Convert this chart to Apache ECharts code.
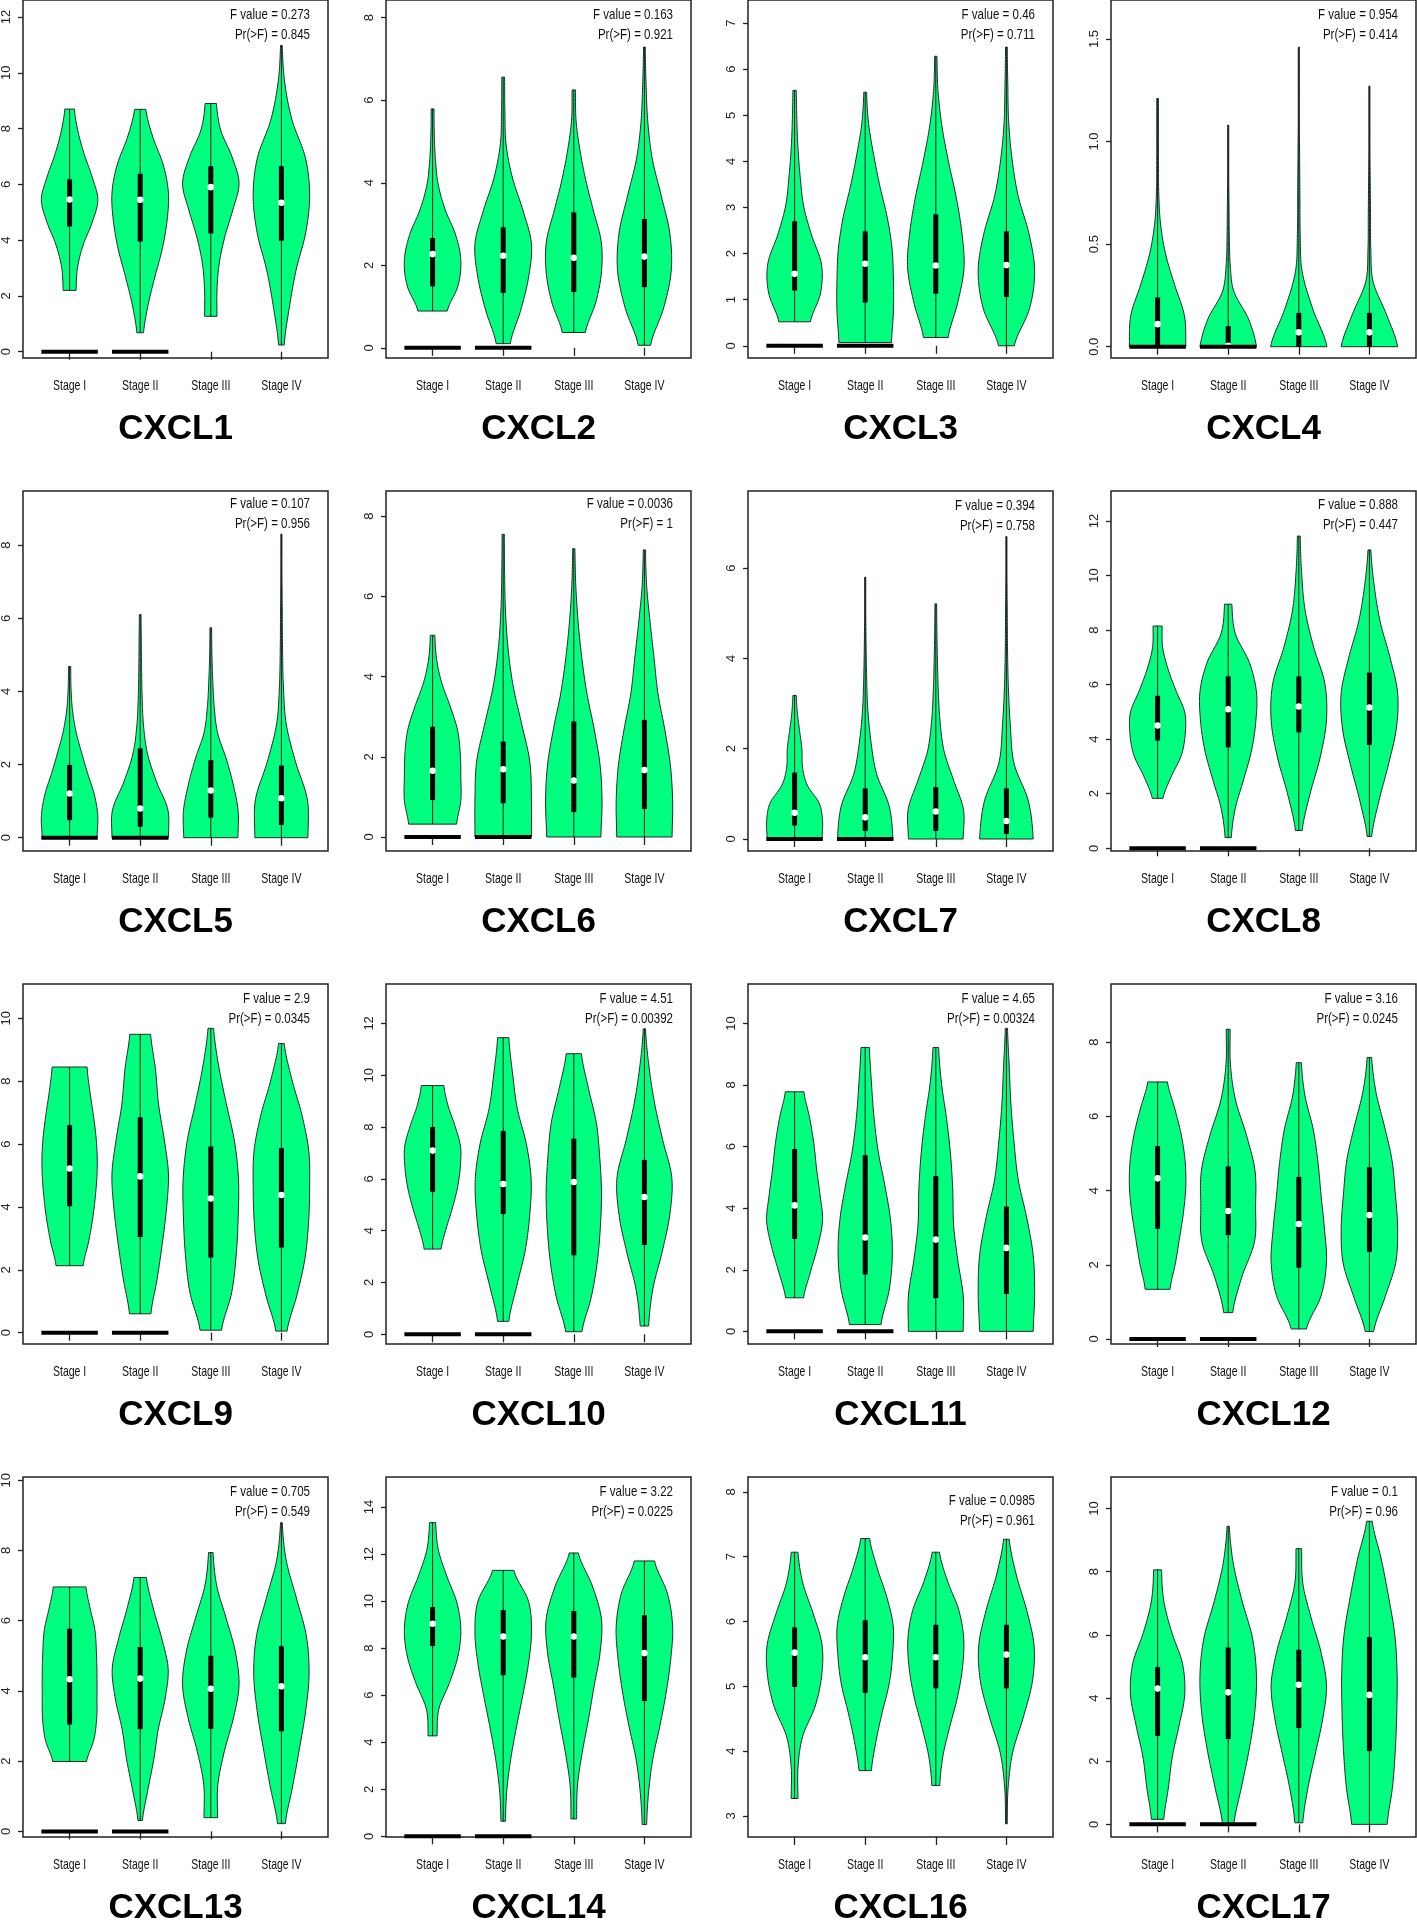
<!DOCTYPE html>
<html>
<head>
<meta charset="utf-8">
<title>CXCL expression by stage</title>
<script src="https://cdn.jsdelivr.net/npm/echarts@6/dist/echarts.min.js"></script>
<style>
  html, body { margin: 0; padding: 0; background: #fff; }
  #main { width: 1417px; height: 1922px; }
</style>
</head>
<body>
<div id="main"></div>
<script>
// ==================== data ====================
const genes = ['CXCL1', 'CXCL2', 'CXCL3', 'CXCL4', 'CXCL5', 'CXCL6', 'CXCL7', 'CXCL8',
  'CXCL9', 'CXCL10', 'CXCL11', 'CXCL12', 'CXCL13', 'CXCL14', 'CXCL16', 'CXCL17'];
const stages = ['Stage I', 'Stage II', 'Stage III', 'Stage IV'];

const fValues = ['0.273', '0.163', '0.46', '0.954', '0.107', '0.0036', '0.394', '0.888',
  '2.9', '4.51', '4.65', '3.16', '0.705', '3.22', '0.0985', '0.1'];
const prValues = ['0.845', '0.921', '0.711', '0.414', '0.956', '1', '0.758', '0.447',
  '0.0345', '0.00392', '0.00324', '0.0245', '0.549', '0.0225', '0.961', '0.96'];

// y axis range and ticks of each panel
const yMin = [-0.225, -0.248, -0.265, -0.055, -0.364, -0.35, -0.266, -0.1,
  -0.36, -0.374, -0.41, -0.135, -0.16, -0.03, 2.676, -0.40];
const yMax = [12.61, 8.43, 7.50, 1.69, 9.48, 8.63, 7.71, 13.1,
  11.09, 13.52, 11.28, 9.57, 10.09, 15.28, 8.23, 11.0];
const yTicks = [
  [0, 2, 4, 6, 8, 10, 12], [0, 2, 4, 6, 8], [0, 1, 2, 3, 4, 5, 6, 7], [0, 0.5, 1, 1.5],
  [0, 2, 4, 6, 8], [0, 2, 4, 6, 8], [0, 2, 4, 6], [0, 2, 4, 6, 8, 10, 12],
  [0, 2, 4, 6, 8, 10], [0, 2, 4, 6, 8, 10, 12], [0, 2, 4, 6, 8, 10], [0, 2, 4, 6, 8],
  [0, 2, 4, 6, 8, 10], [0, 2, 4, 6, 8, 10, 12, 14], [3, 4, 5, 6, 7, 8], [0, 2, 4, 6, 8, 10]
];
const tickDecimals = [0, 0, 0, 1, 0, 0, 0, 0, 0, 0, 0, 0, 0, 0, 0, 0];

// black bar at zero (stage I, II) drawn in all panels but CXCL16
const zeroBars = [1, 1, 1, 1, 1, 1, 1, 1, 1, 1, 1, 1, 1, 1, 0, 1];

// violin range (min / max) per panel, per stage
const lows = [
  [2.2, 0.68, 1.27, 0.24], [0.89, 0.1, 0.37, 0.06], [0.52, 0.07, 0.18, 0], [0, 0, 0, 0],
  [0, 0, 0, 0], [0.32, 0, 0, 0], [0, 0, 0, 0], [1.83, 0.39, 0.65, 0.43],
  [2.13, 0.6, 0.08, 0.05], [3.29, 0.5, 0.1, 0.32], [1.09, 0.22, 0, 0], [1.34, 0.71, 0.27, 0.2],
  [1.99, 0.31, 0.39, 0.22], [4.27, 0.64, 0.74, 0.5], [3.27, 3.7, 3.47, 2.88], [0.16, 0, 0.05, 0]
];
const highs = [
  [8.7, 8.69, 8.9, 10.98], [5.79, 6.56, 6.25, 7.29], [5.54, 5.5, 6.28, 6.48], [1.21, 1.08, 1.46, 1.27],
  [4.68, 6.1, 5.74, 8.3], [5.03, 7.55, 7.19, 7.16], [3.18, 5.8, 5.21, 6.7], [8.15, 8.95, 11.45, 10.94],
  [8.45, 9.49, 9.68, 9.2], [9.6, 11.45, 10.83, 11.79], [7.78, 9.22, 9.22, 9.84], [6.93, 8.35, 7.45, 7.59],
  [6.96, 7.23, 7.94, 8.79], [13.34, 11.31, 12.05, 11.71], [7.07, 7.28, 7.07, 7.27], [8.06, 9.44, 8.73, 9.6]
];
// quartiles and medians
const q1s = [
  [4.49, 3.95, 4.24, 3.98], [1.49, 1.33, 1.35, 1.47], [1.2, 0.94, 1.13, 1.06], [0, 0, 0, 0],
  [0.48, 0.3, 0.55, 0.35], [0.92, 0.84, 0.62, 0.7], [0.3, 0.18, 0.18, 0.11], [3.95, 3.7, 4.25, 3.79],
  [4.02, 3.04, 2.39, 2.71], [5.5, 4.64, 3.05, 3.45], [3.0, 1.85, 1.08, 1.22], [2.97, 2.8, 1.92, 2.35],
  [3.04, 2.91, 2.92, 2.85], [8.09, 6.85, 6.75, 5.75], [4.99, 4.9, 4.97, 4.97], [2.8, 2.7, 3.05, 2.32]
];
const medians = [
  [5.46, 5.45, 5.9, 5.34], [2.27, 2.23, 2.18, 2.21], [1.56, 1.78, 1.74, 1.75], [0.11, 0.005, 0.07, 0.07],
  [1.21, 0.8, 1.29, 1.08], [1.65, 1.69, 1.41, 1.67], [0.58, 0.48, 0.61, 0.4], [4.5, 5.1, 5.2, 5.16],
  [5.22, 4.97, 4.27, 4.38], [7.09, 5.8, 5.88, 5.3], [4.09, 3.05, 2.98, 2.71], [4.33, 3.45, 3.1, 3.34],
  [4.33, 4.35, 4.06, 4.13], [9.04, 8.5, 8.5, 7.79], [5.52, 5.45, 5.45, 5.49], [4.3, 4.18, 4.42, 4.1]
];
const q3s = [
  [6.18, 6.38, 6.65, 6.65], [2.66, 2.92, 3.28, 3.12], [2.7, 2.48, 2.85, 2.48], [0.24, 0.1, 0.165, 0.165],
  [1.99, 2.44, 2.12, 1.97], [2.75, 2.38, 2.88, 2.92], [1.47, 1.12, 1.15, 1.12], [5.59, 6.3, 6.3, 6.44],
  [6.6, 6.85, 5.92, 5.87], [8.0, 7.85, 7.55, 6.73], [5.92, 5.72, 5.04, 4.05], [5.2, 4.65, 4.37, 4.63],
  [5.77, 5.25, 5.0, 5.27], [9.75, 9.62, 9.58, 9.4], [5.91, 6.02, 5.95, 5.95], [4.98, 5.6, 5.53, 5.93]
];

// violin widths (share of max) at 9 even levels from low to high
const shapes = [
  [[0.23, 0.28, 0.48, 0.8, 1.0, 0.8, 0.52, 0.3, 0.17], [0.12, 0.28, 0.52, 0.78, 0.95, 1.0, 0.82, 0.45, 0.2],
   [0.22, 0.22, 0.3, 0.5, 0.78, 1.0, 0.75, 0.35, 0.2], [0.1, 0.28, 0.52, 0.86, 1.0, 0.85, 0.38, 0.12, 0.03]],
  [[0.52, 0.9, 1.0, 0.82, 0.45, 0.2, 0.1, 0.06, 0.05], [0.25, 0.62, 0.9, 1.0, 0.7, 0.32, 0.1, 0.06, 0.05],
   [0.41, 0.78, 0.98, 0.97, 0.7, 0.43, 0.22, 0.08, 0.06], [0.22, 0.68, 0.95, 0.9, 0.6, 0.28, 0.12, 0.06, 0.03]],
  [[0.56, 0.92, 0.95, 0.6, 0.32, 0.2, 0.12, 0.08, 0.06], [0.93, 1.0, 1.0, 0.95, 0.78, 0.52, 0.3, 0.12, 0.05],
   [0.44, 0.78, 1.0, 0.92, 0.72, 0.45, 0.22, 0.08, 0.04], [0.28, 0.82, 1.0, 0.8, 0.42, 0.2, 0.08, 0.05, 0.03]],
  [[1.0, 0.95, 0.6, 0.28, 0.1, 0.04, 0.03, 0.03, 0.03], [1.0, 0.72, 0.2, 0.07, 0.04, 0.03, 0.02, 0.02, 0.02],
   [1.0, 0.5, 0.12, 0.05, 0.04, 0.03, 0.02, 0.02, 0.02], [1.0, 0.6, 0.13, 0.05, 0.04, 0.03, 0.02, 0.02, 0.02]],
  [[0.97, 1.0, 0.88, 0.64, 0.42, 0.22, 0.1, 0.05, 0.04], [1.0, 0.98, 0.58, 0.26, 0.12, 0.07, 0.05, 0.04, 0.03],
   [0.96, 0.97, 0.8, 0.55, 0.24, 0.12, 0.07, 0.04, 0.03], [0.94, 0.92, 0.5, 0.17, 0.07, 0.04, 0.03, 0.02, 0.02]],
  [[0.85, 1.0, 1.0, 0.98, 0.88, 0.62, 0.32, 0.14, 0.08], [1.0, 1.0, 0.94, 0.65, 0.35, 0.17, 0.08, 0.05, 0.04],
   [0.96, 1.0, 0.93, 0.72, 0.46, 0.28, 0.15, 0.07, 0.04], [0.98, 1.0, 0.92, 0.72, 0.48, 0.34, 0.2, 0.08, 0.04]],
  [[0.97, 0.99, 0.87, 0.45, 0.28, 0.26, 0.18, 0.1, 0.06], [0.98, 0.85, 0.4, 0.2, 0.09, 0.05, 0.03, 0.02, 0.02],
   [0.97, 0.98, 0.63, 0.29, 0.15, 0.09, 0.06, 0.04, 0.03], [0.95, 0.78, 0.27, 0.14, 0.07, 0.04, 0.03, 0.02, 0.02]],
  [[0.19, 0.48, 0.84, 0.98, 0.96, 0.65, 0.37, 0.18, 0.16], [0.11, 0.25, 0.55, 0.83, 0.98, 1.0, 0.75, 0.25, 0.13],
   [0.12, 0.4, 0.76, 0.98, 0.92, 0.52, 0.22, 0.1, 0.05], [0.08, 0.34, 0.67, 0.95, 1.0, 0.73, 0.38, 0.17, 0.05]],
  [[0.48, 0.68, 0.83, 0.93, 0.98, 0.95, 0.85, 0.72, 0.62], [0.38, 0.6, 0.78, 0.93, 1.0, 0.85, 0.65, 0.54, 0.37],
   [0.38, 0.74, 0.9, 0.97, 0.98, 0.84, 0.55, 0.28, 0.1], [0.2, 0.55, 0.83, 0.96, 1.0, 0.97, 0.73, 0.37, 0.1]],
  [[0.3, 0.48, 0.7, 0.88, 0.98, 0.99, 0.8, 0.55, 0.4], [0.2, 0.48, 0.78, 0.94, 0.99, 0.82, 0.5, 0.33, 0.2],
   [0.29, 0.62, 0.83, 0.94, 0.98, 0.92, 0.8, 0.52, 0.27], [0.15, 0.3, 0.63, 0.9, 0.97, 0.65, 0.36, 0.16, 0.04]],
  [[0.32, 0.56, 0.82, 0.99, 0.9, 0.78, 0.68, 0.53, 0.33], [0.56, 0.85, 0.96, 0.9, 0.7, 0.46, 0.31, 0.22, 0.15],
   [0.97, 0.97, 0.78, 0.63, 0.6, 0.52, 0.38, 0.2, 0.1], [0.95, 1.0, 0.95, 0.72, 0.42, 0.27, 0.16, 0.1, 0.04]],
  [[0.44, 0.63, 0.78, 0.92, 1.0, 0.97, 0.83, 0.6, 0.35], [0.16, 0.48, 0.93, 0.97, 0.95, 0.65, 0.26, 0.08, 0.07],
   [0.27, 0.79, 0.98, 0.91, 0.79, 0.68, 0.51, 0.22, 0.09], [0.15, 0.55, 0.93, 1.0, 0.92, 0.8, 0.53, 0.23, 0.08]],
  [[0.6, 0.86, 0.96, 0.97, 0.97, 0.95, 0.9, 0.73, 0.58], [0.08, 0.27, 0.48, 0.64, 0.88, 0.99, 0.76, 0.46, 0.22],
   [0.24, 0.25, 0.48, 0.8, 1.0, 0.87, 0.55, 0.21, 0.08], [0.14, 0.4, 0.64, 0.86, 0.98, 0.88, 0.53, 0.17, 0.03]],
  [[0.16, 0.22, 0.6, 0.9, 1.0, 0.86, 0.5, 0.2, 0.11], [0.08, 0.13, 0.27, 0.47, 0.69, 0.89, 1.0, 0.9, 0.38],
   [0.1, 0.13, 0.3, 0.52, 0.72, 0.93, 0.98, 0.66, 0.16], [0.08, 0.15, 0.3, 0.55, 0.77, 0.93, 1.0, 0.82, 0.36]],
  [[0.12, 0.12, 0.28, 0.73, 0.96, 0.97, 0.66, 0.29, 0.12], [0.22, 0.38, 0.6, 0.85, 0.97, 0.99, 0.76, 0.42, 0.16],
   [0.14, 0.25, 0.49, 0.76, 0.94, 0.99, 0.82, 0.42, 0.13], [0.03, 0.06, 0.22, 0.6, 0.92, 0.98, 0.72, 0.35, 0.1]],
  [[0.22, 0.38, 0.52, 0.76, 0.96, 0.88, 0.5, 0.22, 0.14], [0.2, 0.47, 0.74, 0.94, 1.0, 0.86, 0.49, 0.18, 0.04],
   [0.14, 0.32, 0.58, 0.84, 0.98, 0.78, 0.43, 0.14, 0.1], [0.63, 0.82, 0.92, 0.97, 0.98, 0.9, 0.68, 0.42, 0.1]]
];

// ==================== layout ====================
const colLeft = [23, 386, 748, 1111];
const rowTop = [-2, 491, 984, 1477];
const boxW = 305;
const boxH = 360;
const noteOffset = [17, 17, 17, 17, 13, 13, 15, 14, 15, 15, 15, 15, 15, 15, 24, 15];

const HALF = 0.4;                 // max half width of a violin, x units
const FILL = '#00ff7f';
const TEXT_FONT = '15px "Liberation Sans", Arial, sans-serif';
const LABEL_SQUEEZE = 0.7;        // the reference text is horizontally condensed
const NOTE_SQUEEZE = 0.77;

// Catmull-Rom through the width levels, returns [fraction, width]
function smoothProfile(ws, steps) {
  const out = [];
  const m = ws.length - 1;
  for (let k = 0; k < m; k++) {
    const p0 = ws[Math.max(k - 1, 0)], p1 = ws[k], p2 = ws[k + 1], p3 = ws[Math.min(k + 2, m)];
    for (let j = 0; j < steps; j++) {
      const t = j / steps, t2 = t * t, t3 = t2 * t;
      const w = 0.5 * (2 * p1 + (-p0 + p2) * t + (2 * p0 - 5 * p1 + 4 * p2 - p3) * t2 +
        (-p0 + 3 * p1 - 3 * p2 + p3) * t3);
      out.push([(k + t) / m, Math.min(Math.max(w, 0.012), 1.03)]);
    }
  }
  out.push([1, ws[m]]);
  return out;
}

function makeRenderItem(p) {
  return function(params, api) {
    const s = params.dataIndex;
    const x = s + 1;
    const lo = lows[p][s], hi = highs[p][s];
    const prof = smoothProfile(shapes[p][s], 12);

    const right = prof.map(d => api.coord([x + HALF * d[1], lo + d[0] * (hi - lo)]));
    const left = prof.slice().reverse().map(d => api.coord([x - HALF * d[1], lo + d[0] * (hi - lo)]));

    const bottom = api.coord([x, lo]);
    const top = api.coord([x, hi]);
    const b3 = api.coord([x, q3s[p][s]]);
    const b1 = api.coord([x, q1s[p][s]]);
    const md = api.coord([x, medians[p][s]]);
    const base = api.coord([x, yMin[p]]);

    const children = [
      {
        type: 'polygon',
        shape: { points: right.concat(left) },
        style: { fill: FILL, stroke: '#2a2a2a', lineWidth: 1 }
      },
      {
        type: 'line',
        shape: { x1: bottom[0], y1: bottom[1], x2: top[0], y2: top[1] },
        style: { stroke: '#1c1c1c', lineWidth: 1 }
      },
      {
        type: 'rect',
        shape: { x: b3[0] - 2.5, y: b3[1], width: 5, height: Math.max(b1[1] - b3[1], 1) },
        style: { fill: '#000' }
      },
      {
        type: 'circle',
        shape: { cx: md[0], cy: md[1], r: 3.3 },
        style: { fill: '#fff' }
      },
      {
        type: 'text',
        x: base[0],
        y: base[1] + 28,
        scaleX: LABEL_SQUEEZE,
        style: {
          text: stages[s], font: TEXT_FONT, fill: '#111',
          align: 'center', verticalAlign: 'middle',
          textAlign: 'center', textVerticalAlign: 'middle'
        }
      }
    ];

    if (zeroBars[p] && s < 2) {
      const z0 = api.coord([x - HALF, 0]);
      const z1 = api.coord([x + HALF, 0]);
      children.push({
        type: 'line',
        shape: { x1: z0[0], y1: z0[1], x2: z1[0], y2: z1[1] },
        style: { stroke: '#000', lineWidth: 4 }
      });
    }
    return { type: 'group', children: children };
  };
}

// ==================== build option ====================
const grids = [], xAxes = [], yAxes = [], series = [], texts = [];

genes.forEach((gene, p) => {
  const left = colLeft[p % 4];
  const top = rowTop[Math.floor(p / 4)];

  grids.push({
    left: left, top: top, width: boxW, height: boxH,
    show: true, borderColor: '#222', borderWidth: 1.5, backgroundColor: 'transparent'
  });

  xAxes.push({
    type: 'value', gridIndex: p, min: 0.34, max: 4.66,
    axisLine: { show: false },
    splitLine: { show: false },
    axisTick: { show: true, customValues: [1, 2, 3, 4], length: 8, lineStyle: { color: '#222', width: 1.3 } },
    axisLabel: { show: false }
  });

  yAxes.push({
    type: 'value', gridIndex: p, min: yMin[p], max: yMax[p],
    axisLine: { show: false },
    splitLine: { show: false },
    axisTick: { show: true, customValues: yTicks[p], length: 5, lineStyle: { color: '#222', width: 1.3 } },
    axisLabel: {
      show: true, customValues: yTicks[p], rotate: 90, margin: 10,
      fontSize: 13, color: '#222', fontFamily: 'Liberation Sans, Arial, sans-serif',
      formatter: v => Number(v).toFixed(tickDecimals[p])
    }
  });

  series.push({
    type: 'custom',
    xAxisIndex: p, yAxisIndex: p,
    renderItem: makeRenderItem(p),
    encode: { x: 0, y: 1 },
    data: stages.map((st, s) => [s + 1, medians[p][s]]),
    animation: false,
    silent: true
  });

  // F statistic note, top right of the box
  const noteX = left + boxW - 18;
  const noteY = top + noteOffset[p];
  [['F value = ' + fValues[p], 0], ['Pr(>F) = ' + prValues[p], 20]].forEach(([txt, dy]) => {
    texts.push({
      type: 'text', x: noteX, y: noteY + dy, scaleX: NOTE_SQUEEZE,
      style: {
        text: txt, font: TEXT_FONT, fill: '#111',
        align: 'right', verticalAlign: 'middle', textAlign: 'right', textVerticalAlign: 'middle'
      }
    });
  });

  // gene name below the panel
  texts.push({
    type: 'text', x: left + boxW / 2, y: top + boxH + 71,
    style: {
      text: gene, font: 'bold 35px "Liberation Sans", Arial, sans-serif', fill: '#000',
      align: 'center', verticalAlign: 'middle', textAlign: 'center', textVerticalAlign: 'middle'
    }
  });
});

const chart = echarts.init(document.getElementById('main'), null, { renderer: 'canvas' });
chart.setOption({
  backgroundColor: '#fff',
  animation: false,
  grid: grids,
  xAxis: xAxes,
  yAxis: yAxes,
  series: series,
  graphic: { elements: texts }
});
</script>
</body>
</html>
